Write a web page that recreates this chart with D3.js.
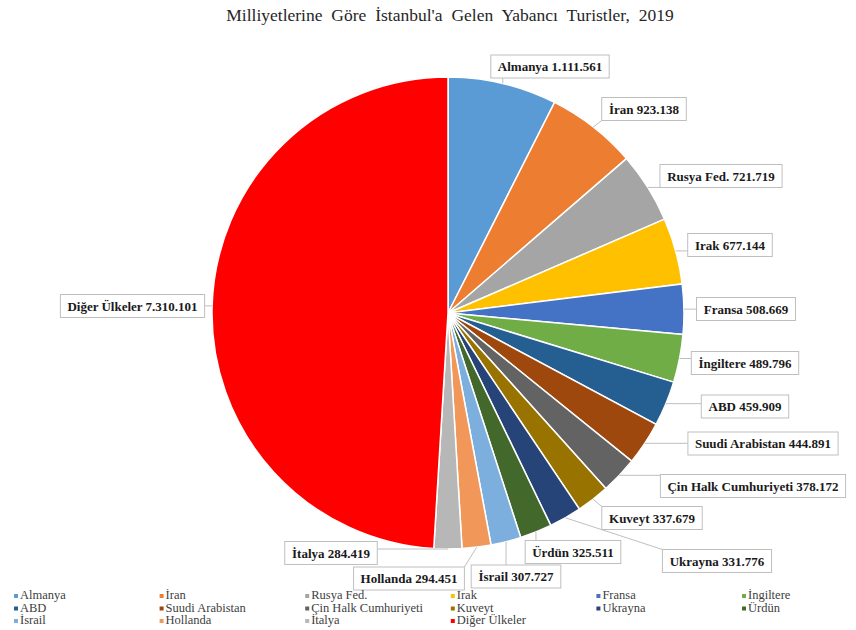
<!DOCTYPE html>
<html>
<head>
<meta charset="utf-8">
<script src="https://cdn.jsdelivr.net/npm/d3@7"></script>
<style>
  body { margin: 0; background: #fff; }
  svg text { font-family: "Liberation Serif", "Times New Roman", serif; }
</style>
</head>
<body>
<script>
// Chart size
const width = 856;
const height = 630;

// Data
const countries = ["Almanya", "İran", "Rusya Fed.", "Irak", "Fransa", "İngiltere", "ABD",
  "Suudi Arabistan", "Çin Halk Cumhuriyeti", "Kuveyt", "Ukrayna", "Ürdün", "İsrail",
  "Hollanda", "İtalya", "Diğer Ülkeler"];
const visitors = [1111561, 923138, 721719, 677144, 508669, 489796, 459909,
  444891, 378172, 337679, 331776, 325511, 307727, 294451, 284419, 7310101];
const valueLabels = ["1.111.561", "923.138", "721.719", "677.144", "508.669", "489.796", "459.909",
  "444.891", "378.172", "337.679", "331.776", "325.511", "307.727", "294.451", "284.419", "7.310.101"];
const colors = ["#5B9BD5", "#ED7D31", "#A5A5A5", "#FFC000", "#4472C4", "#70AD47", "#255E91",
  "#9E480E", "#636363", "#997300", "#264478", "#43682B", "#7CAFDD", "#F1975A", "#B7B7B7", "#FF0000"];

// Layout: label box centres (manual placement like the original)
const labelPos = [[550, 66.5], [644, 109], [721, 176], [730, 245], [746, 309], [745, 363],
  [745, 406.5], [763, 443.5], [753, 486], [652, 518], [717, 561], [573, 552], [516, 576.5],
  [409, 578.5], [331, 553], [132.5, 306]];

const cx = 448, cy = 313, radius = 236;

const svg = d3.select("body")
  .append("svg")
  .attr("width", width)
  .attr("height", height);

// Title
svg.append("text")
  .attr("x", 450)
  .attr("y", 21)
  .attr("text-anchor", "middle")
  .attr("font-size", "17.5px")
  .attr("word-spacing", "4.5px")
  .attr("fill", "#262626")
  .text("Milliyetlerine Göre İstanbul'a Gelen Yabancı Turistler, 2019");

const data = countries.map((c, i) => ({ name: c, value: visitors[i], label: valueLabels[i], color: colors[i] }));

const pie = d3.pie().sort(null).value(d => d.value);
const arcs = pie(data);

const arc = d3.arc().innerRadius(0).outerRadius(radius);
const edge = d3.arc().innerRadius(radius).outerRadius(radius);

const g = svg.append("g").attr("transform", `translate(${cx},${cy})`);

g.selectAll("path")
  .data(arcs)
  .join("path")
  .attr("d", arc)
  .attr("fill", d => d.data.color)
  .attr("stroke", "#fff")
  .attr("stroke-width", 1.5);

// Data labels with leader lines
const labels = svg.append("g");
arcs.forEach((d, i) => {
  const [bx, by] = labelPos[i];
  const t = labels.append("text")
    .attr("x", bx)
    .attr("y", by + 4.5)
    .attr("text-anchor", "middle")
    .attr("font-size", "13px")
    .attr("font-weight", "bold")
    .attr("fill", "#1a1a1a")
    .text(d.data.name + " " + d.data.label);
  const bb = t.node().getBBox();
  const w = bb.width + 14, h = 23;
  const x0 = bx - w / 2, x1 = bx + w / 2, y0 = by - h / 2, y1 = by + h / 2;

  // point on the slice edge
  const [ex, ey] = edge.centroid(d);
  const px = ex + cx, py = ey + cy;
  let tx, ty;
  if (px < x0) { tx = x0; ty = Math.max(y0, Math.min(y1, py)); }
  else if (px > x1) { tx = x1; ty = Math.max(y0, Math.min(y1, py)); }
  else { tx = px; ty = py < y0 ? y0 : y1; }

  labels.insert("line", "text")
    .attr("x1", px).attr("y1", py)
    .attr("x2", tx).attr("y2", ty)
    .attr("stroke", "#bfbfbf")
    .attr("stroke-width", 1);
  labels.insert("rect", "text")
    .attr("x", x0).attr("y", y0)
    .attr("width", w).attr("height", h)
    .attr("fill", "#fff")
    .attr("stroke", "#bfbfbf")
    .attr("stroke-width", 1);
});

// Legend: 6 columns x 3 rows
const legend = svg.append("g");
data.forEach((d, i) => {
  const col = i % 6, row = Math.floor(i / 6);
  const x = 20 + col * 145.6;
  const y = 599 + row * 12.5;
  legend.append("rect")
    .attr("x", x - 6).attr("y", y - 5)
    .attr("width", 4).attr("height", 4)
    .attr("fill", d.color);
  legend.append("text")
    .attr("x", x).attr("y", y)
    .attr("font-size", "12.5px")
    .attr("fill", "#404040")
    .text(d.name);
});
</script>
</body>
</html>
